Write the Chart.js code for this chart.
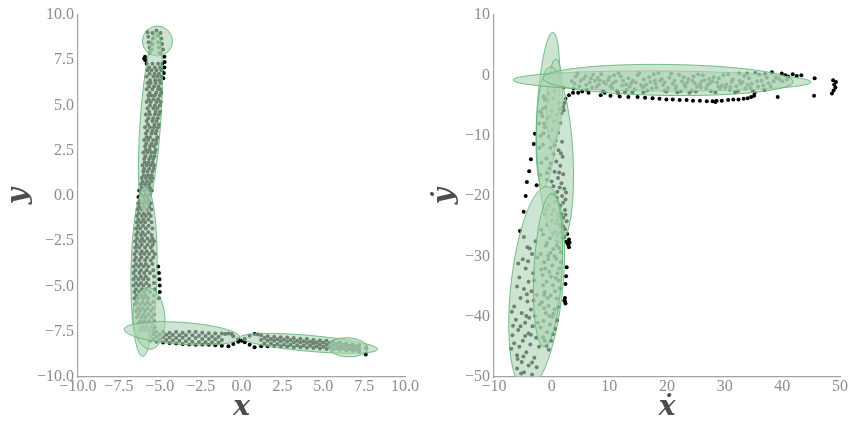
<!DOCTYPE html>
<html>
<head>
<meta charset="utf-8">
<script src="https://cdn.jsdelivr.net/npm/chart.js@4.4.0/dist/chart.umd.min.js"></script>
<style>
  body { margin: 0; background: #fff; }
  canvas { position: absolute; top: 0; }
</style>
</head>
<body>
<canvas id="posChart" width="426" height="424" style="left:0"></canvas>
<canvas id="velChart" width="426" height="424" style="left:426px"></canvas>
<script>
// position samples (x, y)
const posPoints = [
  [-5.75,9.05],[-5.7,8.8],[-5.68,8.5],[-5.62,8.2],[-5.6,7.9],
  [-5.45,9.0],[-5.4,8.7],[-5.45,8.4],[-5.5,8.1],
  [-5.2,9.15],[-5.15,8.85],[-5.1,8.5],[-5.05,8.2],[-5.0,7.9],
  [-4.95,9.0],[-4.9,8.7],[-4.85,8.4],[-4.8,8.1],
  [-5.9,7.7],[-5.88,7.5],[-5.95,7.6],[-4.72,7.7],[-4.7,7.4],[-4.72,7.1],[-4.75,6.8],[-4.78,6.5],
  [-5.8,7.3],[-5.45,7.3],[-5.1,7.3],[-4.85,7.3],
  [-5.75,6.95],[-5.5,6.95],[-5.2,6.95],[-4.9,6.95],
  [-5.8,6.6],[-5.4,6.6],[-5.15,6.6],[-4.9,6.6],
  [-5.75,6.25],[-5.55,6.25],[-5.25,6.25],[-4.95,6.25],
  [-5.8,5.9],[-5.45,5.9],[-5.1,5.9],[-4.95,5.9],
  [-5.7,5.55],[-5.5,5.55],[-5.3,5.55],[-5.0,5.55],
  [-5.8,5.2],[-5.55,5.2],[-5.2,5.2],[-4.95,5.2],
  [-5.75,4.85],[-5.4,4.85],[-5.15,4.85],
  [-5.85,4.5],[-5.6,4.5],[-5.3,4.5],[-5.05,4.5],
  [-5.8,4.15],[-5.45,4.15],[-5.2,4.15],
  [-5.9,3.8],[-5.6,3.8],[-5.35,3.8],[-5.1,3.8],
  [-5.85,3.45],[-5.5,3.45],[-5.25,3.45],
  [-5.95,3.1],[-5.7,3.1],[-5.4,3.1],[-5.2,3.1],
  [-5.9,2.75],[-5.6,2.75],[-5.35,2.75],
  [-6.0,2.4],[-5.75,2.4],[-5.5,2.4],[-5.3,2.4],
  [-5.95,2.05],[-5.65,2.05],[-5.4,2.05],
  [-6.05,1.7],[-5.8,1.7],[-5.55,1.7],[-5.35,1.7],
  [-6.0,1.35],[-5.75,1.35],[-5.45,1.35],
  [-6.1,1.0],[-5.85,1.0],[-5.6,1.0],[-5.45,1.0],
  [-6.15,0.65],[-5.9,0.65],[-5.65,0.65],
  [-6.25,0.3],[-5.95,0.3],[-5.7,0.3],[-5.5,0.3],
  [-6.3,-0.05],[-6.0,-0.05],[-5.75,-0.05],
  [-6.3,-0.4],[-6.05,-0.4],[-5.8,-0.4],[-5.55,-0.4],
  [-6.35,-0.75],[-6.1,-0.75],[-5.8,-0.75],[-5.5,-0.75],
  [-6.4,-1.1],[-6.1,-1.1],[-5.85,-1.1],[-5.55,-1.1],
  [-6.4,-1.45],[-6.15,-1.45],[-5.9,-1.45],[-5.5,-1.45],
  [-6.45,-1.8],[-6.2,-1.8],[-5.85,-1.8],[-5.45,-1.8],
  [-6.45,-2.15],[-6.15,-2.15],[-5.9,-2.15],[-5.5,-2.15],
  [-6.5,-2.5],[-6.2,-2.5],[-5.95,-2.5],[-5.6,-2.5],[-5.35,-2.5],
  [-6.5,-2.85],[-6.25,-2.85],[-5.9,-2.85],[-5.55,-2.85],
  [-6.55,-3.2],[-6.2,-3.2],[-5.95,-3.2],[-5.65,-3.2],[-5.3,-3.2],
  [-6.55,-3.55],[-6.25,-3.55],[-5.9,-3.55],[-5.55,-3.55],
  [-6.6,-3.9],[-6.3,-3.9],[-6.0,-3.9],[-5.7,-3.9],[-5.1,-3.9],
  [-6.6,-4.25],[-6.25,-4.25],[-5.95,-4.25],[-5.6,-4.25],[-5.05,-4.25],
  [-6.6,-4.6],[-6.3,-4.6],[-6.0,-4.6],[-5.7,-4.6],[-5.02,-4.6],
  [-6.6,-4.95],[-6.3,-4.95],[-6.0,-4.95],[-5.65,-4.95],[-5.0,-4.95],
  [-6.55,-5.3],[-6.25,-5.3],[-5.95,-5.3],[-5.6,-5.3],[-5.0,-5.3],
  [-6.55,-5.65],[-6.3,-5.65],[-6.0,-5.65],[-5.7,-5.65],[-5.05,-5.65],
  [-6.5,-6.0],[-6.2,-6.0],[-5.9,-6.0],[-5.6,-6.0],
  [-6.45,-6.35],[-6.2,-6.35],[-5.9,-6.35],[-5.55,-6.35],
  [-6.4,-6.7],[-6.1,-6.7],[-5.85,-6.7],[-5.5,-6.7],
  [-6.3,-7.05],[-6.05,-7.05],[-5.8,-7.05],[-5.45,-7.05],
  [-6.2,-7.4],[-5.95,-7.4],[-5.7,-7.4],[-5.4,-7.4],
  [-5.65,7.1],[-5.3,7.1],[-4.98,7.1],[-5.62,6.75],[-5.32,6.75],[-5.05,6.75],
  [-5.6,6.4],[-5.28,6.4],[-5.02,6.4],[-5.65,6.05],[-5.35,6.05],[-5.08,6.05],
  [-5.62,5.7],[-5.22,5.7],[-4.92,5.7],[-5.68,5.35],[-5.38,5.35],[-5.1,5.35],
  [-5.6,5.0],[-5.3,5.0],[-5.0,5.0],[-5.65,4.65],[-5.25,4.65],[-4.98,4.65],
  [-5.7,4.3],[-5.4,4.3],[-5.12,4.3],[-5.72,3.95],[-5.32,3.95],[-5.05,3.95],
  [-5.75,3.6],[-5.45,3.6],[-5.2,3.6],[-5.8,3.25],[-5.6,3.25],[-5.15,3.25],
  [-5.82,2.9],[-5.5,2.9],[-5.22,2.9],[-5.85,2.55],[-5.62,2.55],[-5.25,2.55],
  [-5.88,2.2],[-5.55,2.2],[-5.32,2.2],[-5.92,1.85],[-5.7,1.85],[-5.45,1.85],
  [-5.95,1.5],[-5.65,1.5],[-5.38,1.5],[-5.98,1.15],[-5.72,1.15],[-5.5,1.15],
  [-6.05,0.8],[-5.78,0.8],[-5.52,0.8],[-6.1,0.45],[-5.82,0.45],[-5.6,0.45],
  [-6.15,0.1],[-5.88,0.1],[-5.62,0.1],[-6.2,-0.25],[-5.92,-0.25],[-5.68,-0.25],
  [-6.25,-0.6],[-5.95,-0.6],[-5.65,-0.6],[-6.28,-0.95],[-5.98,-0.95],[-5.68,-0.95],
  [-6.3,-1.3],[-6.0,-1.3],[-5.7,-1.3],[-6.32,-1.65],[-6.02,-1.65],[-5.68,-1.65],
  [-6.35,-2.0],[-6.05,-2.0],[-5.7,-2.0],
  [-6.38,-2.35],[-6.08,-2.35],[-5.75,-2.35],[-5.45,-2.35],
  [-6.4,-2.7],[-6.1,-2.7],[-5.75,-2.7],[-5.42,-2.7],
  [-6.42,-3.05],[-6.1,-3.05],[-5.8,-3.05],[-5.45,-3.05],
  [-6.45,-3.4],[-6.12,-3.4],[-5.78,-3.4],[-5.4,-3.4],
  [-6.45,-3.75],[-6.15,-3.75],[-5.85,-3.75],[-5.45,-3.75],
  [-6.48,-4.1],[-6.15,-4.1],[-5.8,-4.1],[-5.4,-4.1],
  [-6.48,-4.45],[-6.15,-4.45],[-5.85,-4.45],[-5.35,-4.45],
  [-6.45,-4.8],[-6.15,-4.8],[-5.82,-4.8],[-5.35,-4.8],
  [-6.45,-5.15],[-6.1,-5.15],[-5.8,-5.15],[-5.3,-5.15],
  [-6.42,-5.5],[-6.12,-5.5],[-5.85,-5.5],[-5.35,-5.5],
  [-6.38,-5.85],[-6.05,-5.85],[-5.75,-5.85],[-5.4,-5.85],
  [-6.32,-6.2],[-6.05,-6.2],[-5.75,-6.2],[-5.4,-6.2],
  [-6.3,-6.55],[-6.0,-6.55],[-5.7,-6.55],[-5.35,-6.55],
  [-6.2,-6.9],[-5.95,-6.9],[-5.65,-6.9],[-5.35,-6.9],
  [-6.1,-7.25],[-5.85,-7.25],[-5.55,-7.25],[-5.3,-7.25],
  [-5.6,-7.5],[-5.6,-7.75],[-5.6,-8.0],
  [-5.2,-7.52],[-5.2,-7.78],[-5.2,-8.05],
  [-4.8,-7.5],[-4.8,-7.8],[-4.8,-8.1],
  [-4.4,-7.55],[-4.4,-7.82],[-4.4,-8.12],
  [-4.0,-7.52],[-4.0,-7.85],[-4.0,-8.15],
  [-3.6,-7.55],[-3.6,-7.83],[-3.6,-8.18],
  [-3.2,-7.5],[-3.2,-7.88],[-3.2,-8.2],
  [-2.8,-7.52],[-2.8,-7.85],[-2.8,-8.22],
  [-2.4,-7.55],[-2.4,-7.9],[-2.4,-8.2],
  [-2.0,-7.58],[-2.0,-7.9],[-2.0,-8.22],
  [-1.6,-7.6],[-1.6,-7.92],[-1.6,-8.25],
  [-1.2,-7.6],[-1.2,-7.95],[-1.2,-8.28],
  [-5.4,-7.62],[-5.4,-7.9],[-5.0,-7.65],[-5.0,-7.92],[-4.6,-7.66],[-4.6,-7.95],
  [-4.2,-7.68],[-4.2,-7.98],[-3.8,-7.7],[-3.8,-8.0],[-3.4,-7.7],[-3.4,-8.03],
  [-3.0,-7.7],[-3.0,-8.05],[-2.6,-7.72],[-2.6,-8.06],[-2.2,-7.74],[-2.2,-8.08],
  [-1.8,-7.76],[-1.8,-8.08],[-1.4,-7.78],[-1.4,-8.1],
  [-0.8,-7.6],[-0.5,-7.75],[-0.2,-7.92],[0.2,-8.08],[0.5,-8.22],[0.8,-8.35],
  [-0.8,-8.3],[-0.5,-8.18],[-0.2,-8.05],[0.2,-7.88],[0.5,-7.72],[0.8,-7.62],
  [-0.6,-7.62],[0.0,-8.0],[-1.0,-7.62],[1.0,-7.65],
  [1.2,-7.7],[1.2,-7.95],[1.2,-8.3],
  [1.6,-7.75],[1.6,-7.98],[1.6,-8.3],
  [2.0,-7.78],[2.0,-8.0],[2.0,-8.28],
  [2.4,-7.8],[2.4,-8.02],[2.4,-8.3],
  [2.8,-7.82],[2.8,-8.05],[2.8,-8.32],
  [3.2,-7.85],[3.2,-8.08],[3.2,-8.35],
  [3.6,-7.88],[3.6,-8.1],[3.6,-8.35],
  [4.0,-7.9],[4.0,-8.12],[4.0,-8.38],
  [4.4,-7.95],[4.4,-8.15],[4.4,-8.4],
  [4.8,-7.98],[4.8,-8.2],[4.8,-8.42],
  [5.2,-8.0],[5.2,-8.22],[5.2,-8.45],
  [5.6,-8.05],[5.6,-8.25],[5.6,-8.48],
  [6.0,-8.1],[6.0,-8.3],[6.0,-8.5],
  [6.4,-8.15],[6.4,-8.32],[6.4,-8.52],
  [6.8,-8.2],[6.8,-8.38],[6.8,-8.55],
  [7.2,-8.25],[7.2,-8.45],[7.2,-8.6],
  [7.6,-8.4],[7.6,-8.75],
  [1.4,-7.85],[1.4,-8.15],[1.8,-7.9],[1.8,-8.15],[2.2,-7.92],[2.2,-8.17],
  [2.6,-7.94],[2.6,-8.2],[3.0,-7.96],[3.0,-8.22],[3.4,-8.0],[3.4,-8.24],
  [3.8,-8.02],[3.8,-8.26],[4.2,-8.05],[4.2,-8.28],[4.6,-8.08],[4.6,-8.3],
  [5.0,-8.1],[5.0,-8.33],[5.4,-8.12],[5.4,-8.36],[5.8,-8.18],[5.8,-8.4],
  [6.2,-8.22],[6.2,-8.42],[6.6,-8.28],[6.6,-8.46],[7.0,-8.32],[7.0,-8.5]
];

// velocity samples (x dot, y dot)
const velPoints = [
  [3.5,-1.0],[4.2,-0.2],[4.8,-1.8],[5.5,-0.6],[6.1,-2.4],[6.6,-1.2],[7.2,0.1],[7.8,-1.9],
  [8.3,-0.8],[8.9,-2.6],[9.4,-1.4],[10.0,-0.3],[10.5,-2.1],[11.1,-1.0],[11.6,0.3],[12.2,-1.7],
  [12.7,-2.8],[13.3,-0.5],[13.8,-1.3],[14.4,-2.3],[14.9,0.0],[15.5,-1.6],[16.0,-0.7],[16.6,-2.5],
  [17.1,-1.1],[17.7,0.2],[18.2,-2.0],[18.8,-0.9],[19.3,-1.6],[19.9,-2.7],[20.4,-0.4],[21.0,-1.4],
  [21.5,-2.2],[22.1,0.1],[22.6,-1.0],[23.2,-1.9],[23.7,-0.6],[24.3,-2.5],[24.8,-1.3],[25.4,0.2],
  [25.9,-2.0],[26.5,-0.8],[27.0,-1.6],[27.6,-2.6],[28.1,-0.3],[28.7,-1.2],[29.2,-2.1],[29.8,0.0],
  [30.3,-1.5],[30.9,-2.4],[31.4,-0.7],[32.0,-1.8],[32.5,0.3],[33.1,-1.1],[33.6,-2.2],[34.2,-0.5],
  [34.7,-1.4],[35.3,0.4],[35.8,-1.9],[36.4,-0.9],[37.0,0.2],[37.6,-1.3],[38.2,0.5],[38.9,-0.4],
  [40.0,-1.0],[41.0,-0.2],
  [4.0,-1.4],[5.0,-0.9],[6.0,-1.6],[7.0,-2.0],[8.0,-0.4],[9.0,-1.1],[10.2,-1.8],[11.3,-2.5],
  [12.4,-0.9],[13.5,-1.9],[14.6,-1.2],[15.8,-2.0],[16.9,-0.3],[18.0,-1.4],[19.1,-0.6],[20.2,-2.1],
  [21.3,-0.9],[22.4,-2.6],[23.5,-1.2],[24.6,-0.2],[25.7,-1.5],[26.8,-2.2],[27.9,-1.0],[29.0,-0.5],
  [30.1,-2.0],[31.2,-1.1],[32.3,-2.6],[33.4,-0.1],[34.5,-2.1],[35.6,-1.0],[36.7,-1.7],[38.0,-1.9],
  [39.5,-0.6],[40.5,0.0],
  [3.8,-2.2],[4.5,0.3],[5.3,-2.7],[5.9,-0.1],[6.4,-2.9],[7.5,-0.9],[8.6,0.2],[9.2,-2.9],
  [9.8,-0.8],[10.8,0.0],[11.5,-2.9],[12.0,-0.2],[13.0,-2.4],[14.1,-0.9],[15.2,0.4],[15.9,-2.8],
  [16.4,-1.5],[17.4,-2.2],[18.5,0.4],[19.6,-1.2],[20.7,0.3],[21.8,-2.8],[22.9,-0.3],[23.9,-2.9],
  [24.4,-0.9],[25.2,-1.9],[26.2,0.0],[27.3,-0.6],[28.4,-2.8],[29.5,-1.7],[30.6,0.2],[31.8,-2.8],
  [32.8,-1.4],[33.9,0.3],[34.9,-2.6],[36.0,0.1],[36.9,-2.4],[37.3,-0.4],[38.5,-1.0],[39.9,0.3],
  [40.8,-0.7],[4.6,-2.9],[6.8,-0.5],[10.6,-1.3],[14.0,-2.8],[17.9,-0.9],[21.6,-1.8],[25.0,-2.7],
  [28.9,-1.9],[32.6,-0.9],[35.2,-2.9],[19.6,-2.5],[12.9,-1.5],[23.0,-1.5],[27.4,-1.3],[31.0,-1.9],
  [8.2,-1.5],[16.0,-1.9],[26.0,-1.0],[34.0,-1.6],
  [8.5,-3.3],[10.2,-3.4],[11.8,-3.5],[13.3,-3.6],[14.9,-3.6],[16.2,-3.7],[17.5,-3.8],[18.7,-3.9],
  [19.9,-4.0],[21.0,-4.0],[22.2,-4.1],[23.4,-4.1],[24.5,-4.2],[25.7,-4.2],[26.9,-4.3],[27.9,-4.3],
  [28.4,-4.4],[28.6,-4.2],[29.5,-4.2],[30.6,-4.1],[31.5,-4.0],[32.4,-4.0],[33.3,-3.9],[34.0,-3.8],
  [34.6,-3.6],[35.1,-3.4],
  [39.2,-3.6],[41.8,0.2],[42.5,-0.1],[43.3,0.0],[45.6,-0.5],[45.5,-3.4],[48.8,-0.8],[49.3,-1.1],
  [49.0,-1.5],[49.2,-2.0],[48.9,-2.5],[48.6,-3.0],
  [3.7,-2.9],[3.0,-3.3],[2.4,-3.9],[2.2,-4.6],[2.0,-5.2],[2.1,-5.8],[1.7,-6.3],
  [1.0,-1.5],[2.0,-2.0],[0.5,-2.6],[-0.5,-3.0],[-1.2,-4.0],[-1.5,-5.5],[-1.6,-6.8],[-1.3,-8.0],
  [-1.4,-3.5],[-0.6,-4.2],[0.3,-3.8],[1.2,-4.6],[-1.0,-5.3],[0.0,-5.9],[0.9,-6.5],[-1.8,-6.2],
  [-0.7,-7.1],[0.4,-7.6],[1.5,-7.9],[-1.2,-8.6],[0.1,-9.0],[1.1,-9.5],[-0.5,-10.2],[0.7,-10.8],
  [1.8,-11.0],[-1.5,-11.5],[-0.2,-12.0],[1.2,-12.4],[0.3,-13.1],[1.9,-13.5],[-0.9,-13.8],[0.8,-14.3],
  [1.5,-15.0],[-0.4,-15.4],[0.5,-16.0],[2.0,-16.4],[1.1,-17.0],[-0.8,-17.3],[1.7,-17.9],[0.3,-18.4],
  [2.2,-18.8],[1.0,-19.3],[1.8,-20.0],[2.4,-20.6],[0.6,-21.0],[1.5,-21.6],[2.3,-22.3],[1.1,-22.9],
  [2.0,-23.6],[2.6,-24.2],[1.4,-24.8],[2.3,-25.5],[2.7,-26.3],[1.8,-26.9],[2.5,-27.6],
  [-0.3,-6.8],[1.3,-5.6],[-1.4,-9.6],[0.5,-11.6],[1.6,-12.9],[-0.8,-16.2],[1.3,-16.1],[0.0,-17.6],
  [1.4,-18.6],[2.5,-19.4],[0.9,-20.3],[2.0,-21.1],[1.7,-23.0],[2.4,-23.1],[1.0,-24.0],[2.0,-25.0],
  [1.5,-26.0],[2.2,-26.8],[0.2,-19.8],[-0.2,-14.6],
  [-2.0,-6.0],[-2.2,-8.0],[-1.9,-10.0],[-2.1,-12.0],[-1.8,-14.5],[-2.0,-16.5],
  [3.0,-27.2],[3.1,-27.7],[2.9,-28.1],[3.0,-28.5],[2.8,-27.9],
  [-2.9,-9.7],[-3.1,-11.4],[-3.6,-13.9],[-3.9,-15.9],[-4.3,-17.7],[-2.6,-18.2],[-4.5,-20.0],[-4.85,-22.6],
  [2.6,-31.8],[2.5,-33.3],[2.4,-34.6],[2.3,-36.9],[2.3,-37.5],[2.4,-37.8],[2.2,-37.3],
  [-0.5,-21.5],[0.4,-22.3],[-1.2,-23.0],[1.2,-23.4],[0.0,-24.1],[-0.8,-24.8],[1.5,-25.2],[0.6,-25.9],
  [-1.5,-26.4],[-0.3,-27.0],[1.0,-27.5],[-1.0,-28.2],[0.3,-28.8],[1.6,-29.3],[-0.6,-29.9],[0.8,-30.4],
  [-1.3,-31.0],[0.1,-31.5],[1.3,-32.0],[-0.4,-32.6],[-1.6,-33.1],[0.7,-33.6],[-0.9,-34.2],[0.2,-34.8],
  [1.4,-35.3],[-1.2,-35.9],[-0.2,-36.5],[0.9,-37.0],[-1.7,-37.6],[-0.5,-38.2],[0.5,-38.8],[-1.0,-39.4],
  [0.1,-40.0],[-1.4,-40.7],[-0.3,-41.3],[0.6,-42.0],[-0.8,-42.6],[-1.5,-43.4],[-0.1,-44.0],[-0.9,-44.8],
  [0.0,-23.0],[1.0,-26.5],[-0.6,-30.5],[1.2,-34.0],[-1.3,-36.4],[0.3,-39.5],[-0.2,-29.4],[0.9,-28.2],
  [-1.8,-32.2],[1.6,-31.0],
  [-0.9,-22.2],[0.8,-24.5],[-1.8,-25.6],[0.2,-26.2],[1.3,-28.6],[-0.8,-27.8],[-1.9,-29.6],[0.5,-30.0],
  [-1.1,-32.0],[1.0,-32.8],[-0.1,-33.4],[-1.5,-34.8],[0.6,-35.8],[-0.7,-36.9],[1.1,-38.4],[-1.3,-38.6],
  [-0.4,-39.9],[0.9,-40.6],[-1.9,-41.8],[0.2,-42.9],[-1.2,-44.0],[-0.5,-45.5],
  [-5.5,-25.8],[-4.2,-28.5],[-3.8,-28.7],[-2.8,-27.5],[-2.5,-30.2],[-5.0,-30.5],[-4.5,-32.0],[-3.2,-32.8],
  [-5.6,-33.5],[-4.0,-34.2],[-4.8,-35.4],[-3.5,-35.8],[-2.6,-36.4],[-5.4,-36.9],[-4.2,-37.5],[-6.5,-38.3],
  [-3.6,-38.8],[-5.2,-39.4],[-2.9,-39.9],[-6.2,-40.5],[-4.6,-41.0],[-3.3,-41.6],[-5.8,-42.2],[-4.0,-42.8],
  [-6.8,-43.1],[-2.7,-43.5],[-5.0,-44.0],[-3.7,-44.6],[-7.0,-45.3],[-4.4,-45.9],[-6.0,-46.4],[-3.0,-46.8],
  [-5.2,-47.5],[-4.0,-48.1],[-6.0,-48.6],[-4.8,-49.2],[-3.4,-49.6],[-5.9,-47.0],[-2.4,-41.0],[-2.2,-45.0],
  [-3.0,-34.0],[-4.3,-36.3],[-3.9,-40.2],[-2.1,-38.0],
  [-4.8,-26.8],[-3.4,-29.6],[-5.8,-31.2],[-4.1,-30.8],[-6.0,-35.0],[-3.1,-37.3],[-6.9,-39.2],[-4.4,-39.9],
  [-5.4,-41.6],[-6.5,-44.4],[-4.6,-43.2],[-3.4,-47.6],[-5.6,-45.0],[-6.7,-41.5],[-4.9,-46.6],[-3.6,-43.0],
  [-5.3,-49.4],[-2.6,-48.4]
];

// mixture components: centre, semi-axes (data units), tilt (deg)
const posEllipseX = [-5.14, -5.57, -5.96, -5.66, -3.64, 4.13, 6.51];
const posEllipseY = [8.56, 4.08, -4.16, -6.76, -7.59, -8.14, -8.36];
const posEllipseRx = [0.92, 0.63, 0.80, 0.98, 3.55, 4.22, 1.22];
const posEllipseRy = [0.83, 4.98, 4.70, 1.71, 0.61, 0.44, 0.53];
const posEllipseTilt = [0, 4, 1, -3, 4, 5, 3];

const velEllipseX = [-0.64, 0.49, 0.58, -2.6, -0.64, 19.13, 20.17];
const velEllipseY = [-5.75, -4.25, -13.2, -35.25, -32.27, -0.94, -0.77];
const velEllipseRx = [1.9, 1.35, 3.12, 4.5, 2.43, 25.84, 21.7];
const velEllipseRy = [12.93, 6.96, 14.6, 16.9, 12.76, 1.66, 2.57];
const velEllipseTilt = [3.6, 2, -3, 6, 3, 0.4, 0.8];

const ellipsePlugin = {
  id: 'gmmEllipses',
  afterDatasetsDraw(chart, args, opts) {
    const { ctx, chartArea } = chart;
    const xs = chart.scales.x, ys = chart.scales.y;
    ctx.save();
    ctx.beginPath();
    ctx.rect(chartArea.left, chartArea.top, chartArea.right - chartArea.left, chartArea.bottom - chartArea.top);
    ctx.clip();
    opts.cx.forEach((cx, i) => {
      const px = xs.getPixelForValue(cx);
      const py = ys.getPixelForValue(opts.cy[i]);
      const rx = Math.abs(xs.getPixelForValue(cx + opts.rx[i]) - px);
      const ry = Math.abs(ys.getPixelForValue(opts.cy[i] + opts.ry[i]) - py);
      ctx.beginPath();
      ctx.ellipse(px, py, rx, ry, opts.tilt[i] * Math.PI / 180, 0, 2 * Math.PI);
      ctx.fillStyle = 'rgba(172, 212, 180, 0.62)';
      ctx.fill();
      ctx.lineWidth = 1;
      ctx.strokeStyle = 'rgba(95, 180, 115, 0.85)';
      ctx.stroke();
    });
    ctx.restore();
  }
};

const tickFont = { family: '"Liberation Serif", "DejaVu Serif", serif', size: 16 };
const titleFont = { family: '"DejaVu Serif", serif', size: 28, weight: 'bold', style: 'italic', lineHeight: 1 };

function fmt(digits) {
  return (v) => v.toFixed(digits).replace('-', '\u2212');
}

function makeChart(id, points, range, ellipses, titles, yWidth) {
  return new Chart(document.getElementById(id), {
    type: 'scatter',
    data: {
      datasets: [{
        data: points.map(([x, y]) => ({ x, y })),
        backgroundColor: '#000',
        borderWidth: 0,
        pointRadius: 2,
        pointHoverRadius: 2
      }]
    },
    options: {
      responsive: false,
      animation: false,
      events: [],
      layout: { padding: { top: 15, right: range.padRight, bottom: 0, left: 0 } },
      plugins: { legend: { display: false }, tooltip: { enabled: false }, gmmEllipses: ellipses },
      scales: {
        x: {
          type: 'linear', min: range.xMin, max: range.xMax,
          afterFit: (s) => { s.height = 47; },
          grid: { display: false, drawTicks: false },
          border: { display: true, color: '#a3a3a3', width: 1.2 },
          ticks: { stepSize: range.xStep, font: tickFont, color: '#8c8c8c', padding: 0,
                   maxRotation: 0, minRotation: 0, autoSkip: false, callback: fmt(range.digits) },
          title: { display: true, text: titles[0], font: titleFont, color: '#4d4d4d', padding: { top: 0, bottom: 2 } }
        },
        y: {
          type: 'linear', min: range.yMin, max: range.yMax,
          afterFit: (s) => { s.width = yWidth; },
          grid: { display: false, drawTicks: false },
          border: { display: true, color: '#a3a3a3', width: 1.2 },
          ticks: { stepSize: range.yStep, font: tickFont, color: '#8c8c8c', padding: 4,
                   autoSkip: false, callback: fmt(range.digits) },
          title: { display: true, text: titles[1], font: titleFont, color: '#4d4d4d', padding: { top: 5, bottom: 0 } }
        }
      }
    },
    plugins: [ellipsePlugin]
  });
}

makeChart('posChart', posPoints,
  { xMin: -10, xMax: 10, xStep: 2.5, yMin: -10, yMax: 10, yStep: 2.5, digits: 1, padRight: 21 },
  { cx: posEllipseX, cy: posEllipseY, rx: posEllipseRx, ry: posEllipseRy, tilt: posEllipseTilt },
  ['x', 'y'], 78);

makeChart('velChart', velPoints,
  { xMin: -10, xMax: 50, xStep: 10, yMin: -50, yMax: 10, yStep: 10, digits: 0, padRight: 12 },
  { cx: velEllipseX, cy: velEllipseY, rx: velEllipseRx, ry: velEllipseRy, tilt: velEllipseTilt },
  ['\u1E8B', '\u1E8F'], 68);
</script>
</body>
</html>
